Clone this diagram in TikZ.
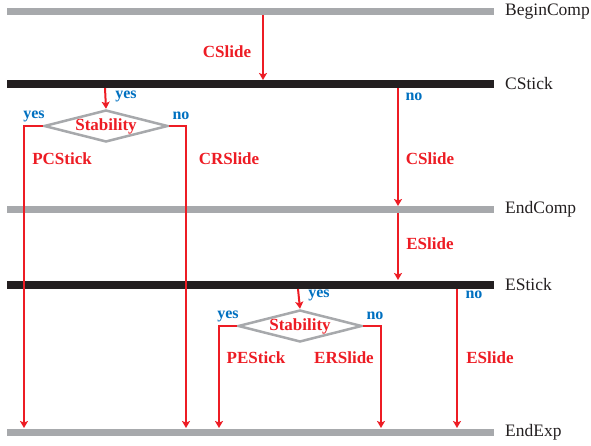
\documentclass[tikz,border=0pt]{standalone}
\usepackage{fontspec}
\setmainfont{Liberation Serif}
\usetikzlibrary{arrows.meta,shapes.geometric}
\definecolor{fred}{RGB}{237,28,36}
\definecolor{fblue}{RGB}{0,112,192}
\definecolor{fgray}{RGB}{167,169,172}
\definecolor{fblack}{RGB}{35,31,32}
\begin{document}
\begin{tikzpicture}[x=1pt,y=-1pt,
  graybar/.style={draw=fgray,line width=7pt},
  blackbar/.style={draw=fblack,line width=8pt},
  arr/.style={draw=fred,line width=2pt,-{Stealth[width=8pt,length=7pt,inset=1.5pt]}},
  decision/.style={diamond,draw=fgray,line width=2.5pt,fill=white,inner sep=0pt,
    minimum width=124pt,minimum height=32pt},
  phase/.style={anchor=west,font=\fontsize{17.5}{19}\selectfont,text=fblack,inner sep=0pt},
  move/.style={font=\fontsize{17}{19}\selectfont\bfseries,text=fred,inner sep=0pt},
  answer/.style={font=\fontsize{16}{18}\selectfont\bfseries,text=fblue,inner sep=0pt}]
\useasboundingbox (0,0) rectangle (591,446);

% phase bars
\draw[graybar]  (7,12)    -- (494,12);
\draw[blackbar] (7,84)    -- (494,84);
\draw[graybar]  (7,209.5) -- (494,209.5);
\draw[blackbar] (7,284.5) -- (494,284.5);
\draw[graybar]  (7,432)   -- (494,432);

\node[phase] (bc) at (505,12)    {BeginComp};
\node[phase] (cs) at (505,84)    {CStick};
\node[phase] (ec) at (505,209.5) {EndComp};
\node[phase] (es) at (505,284.5) {EStick};
\node[phase] (ee) at (505,432)   {EndExp};

% attachment points on the bars
\coordinate (b0) at (263,15.5);
\coordinate (c0) at (263,80);
\coordinate (c1) at (105,88);
\coordinate (c2) at (398,88);
\coordinate (m1) at (398,206);
\coordinate (m2) at (398,213);
\coordinate (s1) at (398,280);
\coordinate (s2) at (298,289);
\coordinate (s3) at (457,289);
\coordinate (x1) at (24,428);
\coordinate (x2) at (186,428);
\coordinate (x3) at (219,428);
\coordinate (x4) at (381,428);
\coordinate (x5) at (457,428);

% stability decisions
\node[decision] (d1) at (106,126) {};
\node[move] (t1) at (d1.center) {Stability};
\node[decision] (d2) at (300,326) {};
\node[move] (t2) at (d2.center) {Stability};

% transitions
\draw[arr] (b0) -- (c0);
\draw[arr] (c1) -- (d1.north);
\draw[arr] (d1.west) -| (x1);
\draw[arr] (d1.east) -| (x2);
\draw[arr] (c2) -- (m1);
\draw[arr] (m2) -- (s1);
\draw[arr] (s2) -- (d2.north);
\draw[arr] (d2.west) -| (x3);
\draw[arr] (d2.east) -| (x4);
\draw[arr] (s3) -- (x5);

% transition labels
\node[move] (l1) at (227,52)  {CSlide};
\node[move] (l2) at (62,159)  {PCStick};
\node[move] (l3) at (229,159) {CRSlide};
\node[move] (l4) at (430,159) {CSlide};
\node[move] (l5) at (430,244) {ESlide};
\node[move] (l6) at (256,358) {PEStick};
\node[move] (l7) at (344,358) {ERSlide};
\node[move] (l8) at (490,358) {ESlide};

\node[answer] (a1) at (126,96)  {yes};
\node[answer] (a2) at (34,116)  {yes};
\node[answer] (a3) at (181,116) {no};
\node[answer] (a4) at (414,97)  {no};
\node[answer] (a5) at (319,295) {yes};
\node[answer] (a6) at (228,316) {yes};
\node[answer] (a7) at (375,316) {no};
\node[answer] (a8) at (474,295) {no};
\end{tikzpicture}
\end{document}
